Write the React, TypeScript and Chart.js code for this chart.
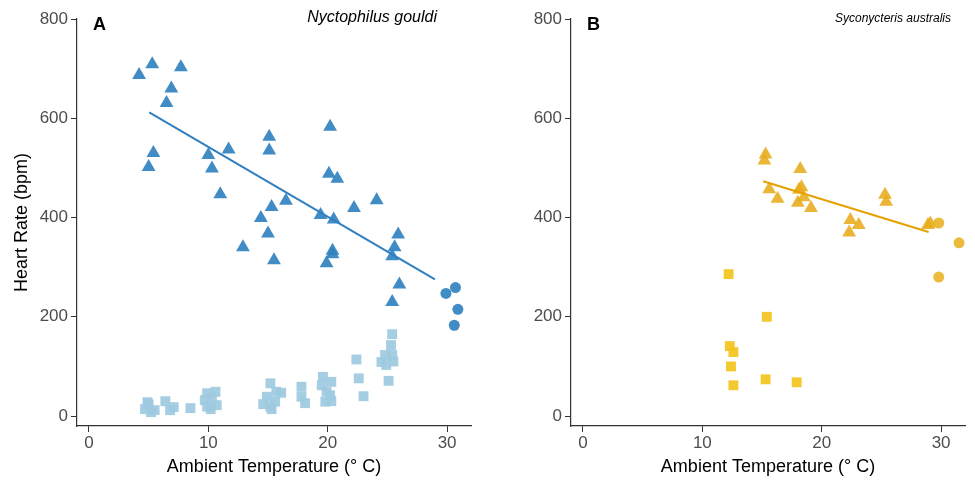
import React, { useEffect, useRef } from "react";
import { Chart, registerables } from "chart.js";

Chart.register(...registerables);

// ---------- Data (Ambient temperature °C, heart rate bpm) ----------
// Panel A: Nyctophilus gouldi
const aTriX = [4.2, 5.3, 7.7, 6.9, 6.5, 5.4, 5.0, 10.0, 11.7, 10.3, 11.0, 15.1, 15.1, 16.5, 15.3, 14.4, 15.0, 12.9, 15.5, 19.4, 20.2, 20.1, 20.8, 20.5, 22.2, 24.1, 20.4, 20.4, 19.9, 25.9, 25.6, 25.4, 26.0, 25.4];
const aTriY = [687, 709, 703, 660, 631, 530, 502, 526, 537, 499, 447, 563, 535, 434, 421, 399, 368, 340, 314, 405, 583, 488, 478, 396, 419, 435, 333, 326, 308, 366, 340, 322, 265, 230];
const aCircX = [29.9, 30.7, 30.9, 30.6];
const aCircY = [247, 259, 215, 183];
const aSqX = [4.7, 5.0, 5.2, 5.5, 4.9, 6.4, 7.1, 6.8, 8.5, 9.9, 10.6, 9.9, 10.7, 9.7, 10.3, 10.2, 15.2, 14.9, 15.2, 15.7, 16.1, 15.6, 15.3, 14.6, 17.8, 17.8, 18.1, 19.6, 20.3, 19.9, 20.2, 19.8, 19.5, 20.3, 22.4, 22.6, 23.0, 25.4, 25.3, 25.4, 24.8, 24.5, 24.9, 25.1, 25.5];
const aSqY = [14, 24, 8, 12, 28, 30, 18, 12, 16, 46, 49, 19, 22, 32, 36, 14, 66, 39, 19, 49, 47, 29, 14, 24, 59, 39, 26, 79, 69, 49, 42, 29, 62, 30, 114, 76, 40, 165, 143, 123, 123, 109, 103, 71, 110];
const aFitX = [5.05, 28.98];
const aFitY = [612, 275.5];

// Panel B: Syconycteris australis
const bTriX = [15.3, 15.2, 18.2, 15.6, 16.3, 18.3, 18.1, 18.5, 18.0, 19.1, 22.4, 23.1, 22.3, 25.3, 25.4, 29.1, 28.9];
const bTriY = [527, 515, 498, 457, 438, 461, 456, 441, 430, 419, 395, 385, 370, 446, 432, 388, 385];
const bCircX = [29.8, 31.5, 29.8];
const bCircY = [389, 349, 280];
const bSqX = [12.2, 15.4, 12.3, 12.6, 12.4, 12.6, 15.3, 17.9];
const bSqY = [286, 200, 141, 129, 100, 62, 74, 68];
const bFitX = [15.1, 28.95];
const bFitY = [473, 371];

const xTicks = [0, 10, 20, 30];
const yTicks = [0, 200, 400, 600, 800];

const FONT = "'Liberation Sans', Arial, Helvetica, sans-serif";

const pts = (xs: number[], ys: number[]) => xs.map((x, i) => ({ x, y: ys[i] }));

type PanelCfg = {
  letter: string;
  species: string;
  speciesRight: number;
  speciesSize: number;
  tri: { x: number; y: number }[];
  circ: { x: number; y: number }[];
  sq: { x: number; y: number }[];
  fit: { x: number; y: number }[];
  triColor: string;
  circColor: string;
  sqColor: string;
  lineColor: string;
  yAxisWidth: number;
  padRight: number;
  showYTitle: boolean;
  letterX: number;
};

function makeChart(canvas: HTMLCanvasElement, p: PanelCfg) {
  const labelPlugin = {
    id: "panelLabels",
    afterDraw(chart: any) {
      const ctx = chart.ctx;
      ctx.save();
      ctx.fillStyle = "#000";
      ctx.textBaseline = "alphabetic";
      ctx.textAlign = "left";
      ctx.font = `bold 18px ${FONT}`;
      ctx.fillText(p.letter, p.letterX, 30);
      ctx.textAlign = "right";
      ctx.font = `italic ${p.speciesSize}px ${FONT}`;
      ctx.fillText(p.species, p.speciesRight, 22);
      ctx.restore();
    },
  };

  return new Chart(canvas, {
    type: "scatter",
    data: {
      datasets: [
        {
          type: "line",
          data: p.fit,
          borderColor: p.lineColor,
          borderWidth: 2,
          pointRadius: 0,
          fill: false,
          order: 0,
        } as any,
        {
          data: p.sq,
          pointStyle: "rect",
          pointRadius: 7,
          backgroundColor: p.sqColor,
          borderWidth: 0,
          order: 3,
        },
        {
          data: p.tri,
          pointStyle: "triangle",
          pointRadius: 8,
          backgroundColor: p.triColor,
          borderWidth: 0,
          order: 2,
        },
        {
          data: p.circ,
          pointStyle: "circle",
          pointRadius: 5.5,
          backgroundColor: p.circColor,
          borderWidth: 0,
          order: 1,
        },
      ],
    },
    options: {
      animation: false,
      responsive: false,
      devicePixelRatio: 1,
      layout: { padding: { left: 0, top: 19, right: p.padRight, bottom: 0 } },
      plugins: { legend: { display: false }, tooltip: { enabled: false } },
      scales: {
        x: {
          type: "linear",
          min: -1,
          max: 32,
          afterBuildTicks: (s: any) => {
            s.ticks = xTicks.map((v) => ({ value: v }));
          },
          afterFit: (s: any) => {
            s.height = 59;
          },
          grid: { display: true, drawOnChartArea: false, drawTicks: true, tickLength: 6, color: "#333" },
          border: { display: true, color: "#333", width: 1.2 },
          ticks: { color: "#4d4d4d", font: { family: FONT, size: 17 }, padding: 1, maxRotation: 0 },
          title: {
            display: true,
            text: "Ambient Temperature (° C)",
            color: "#000",
            font: { family: FONT, size: 18 },
            padding: { top: 0, bottom: 7 },
          },
        },
        y: {
          type: "linear",
          min: -20,
          max: 800,
          afterBuildTicks: (s: any) => {
            s.ticks = yTicks.map((v) => ({ value: v }));
          },
          afterFit: (s: any) => {
            s.width = p.yAxisWidth;
          },
          grid: { display: true, drawOnChartArea: false, drawTicks: true, tickLength: 6, color: "#333" },
          border: { display: true, color: "#333", width: 1.2 },
          ticks: { color: "#4d4d4d", font: { family: FONT, size: 17 }, padding: 3 },
          title: {
            display: p.showYTitle,
            text: "Heart Rate (bpm)",
            color: "#000",
            font: { family: FONT, size: 18 },
            padding: { top: 11, bottom: 0 },
          },
        },
      },
    },
    plugins: [labelPlugin],
  } as any);
}

const panelA: PanelCfg = {
  letter: "A",
  species: "Nyctophilus gouldi",
  speciesRight: 437,
  speciesSize: 16,
  tri: pts(aTriX, aTriY),
  circ: pts(aCircX, aCircY),
  sq: pts(aSqX, aSqY),
  fit: pts(aFitX, aFitY),
  triColor: "rgba(50,130,192,0.92)",
  circColor: "rgba(50,130,192,0.92)",
  sqColor: "rgba(158,202,225,0.92)",
  lineColor: "#2f7fc1",
  yAxisWidth: 77,
  padRight: 19,
  showYTitle: true,
  letterX: 93,
};

const panelB: PanelCfg = {
  letter: "B",
  species: "Syconycteris australis",
  speciesRight: 461,
  speciesSize: 12,
  tri: pts(bTriX, bTriY),
  circ: pts(bCircX, bCircY),
  sq: pts(bSqX, bSqY),
  fit: pts(bFitX, bFitY),
  triColor: "rgba(232,172,28,0.88)",
  circColor: "rgba(234,178,40,0.9)",
  sqColor: "rgba(243,196,30,0.92)",
  lineColor: "#e6a100",
  yAxisWidth: 81,
  padRight: 10,
  showYTitle: false,
  letterX: 97,
};

export default function App() {
  const refA = useRef<HTMLCanvasElement>(null);
  const refB = useRef<HTMLCanvasElement>(null);

  useEffect(() => {
    const cA = makeChart(refA.current!, panelA);
    const cB = makeChart(refB.current!, panelB);
    return () => {
      cA.destroy();
      cB.destroy();
    };
  }, []);

  return (
    <div style={{ position: "fixed", left: 0, top: 0, width: 975, height: 485, background: "#fff" }}>
      <canvas ref={refA} width={490} height={485} style={{ position: "absolute", left: 0, top: 0, width: 490, height: 485 }} />
      <canvas ref={refB} width={485} height={485} style={{ position: "absolute", left: 490, top: 0, width: 485, height: 485 }} />
    </div>
  );
}
